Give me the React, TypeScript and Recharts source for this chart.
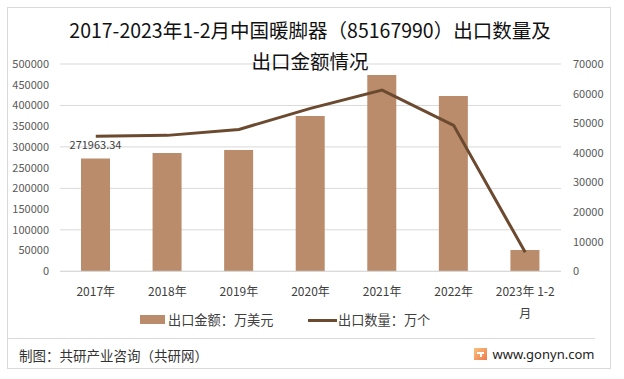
import React from 'react';
import { ComposedChart, Bar, Line, XAxis, YAxis, CartesianGrid, LabelList } from 'recharts';

const categories = ['2017年', '2018年', '2019年', '2020年', '2021年', '2022年', '2023年 1-2月'];
const exportValue = [271963.34, 285300, 292500, 374600, 473500, 422800, 51400];
const exportQuantity = [45600, 45900, 47900, 55000, 61200, 49300, 6400];
const valueLabels = ['271963.34', '', '', '', '', '', ''];
const leftTicks = [0, 50000, 100000, 150000, 200000, 250000, 300000, 350000, 400000, 450000, 500000];
const rightTicks = [0, 10000, 20000, 30000, 40000, 50000, 60000, 70000];
const titleLines = ['2017-2023年1-2月中国暖脚器（85167990）出口数量及', '出口金额情况'];
const legendNames = ['出口金额：万美元', '出口数量：万个'];
const footerLeft = '制图：共研产业咨询（共研网）';
const footerRight = 'www.gonyn.com';

const data = categories.map((c, i) => ({
  name: c,
  value: exportValue[i],
  qty: exportQuantity[i],
  label: valueLabels[i],
}));

const FONT = '"Noto Sans CJK SC", "Noto Sans", sans-serif';
const BAR = '#BA8C6B';
const LINE = '#6B4A2F';
const AXIS_TEXT = '#595959';

const WrapTick = (props: any) => {
  const { x, y, payload } = props;
  const s = String(payload.value);
  const maxChars = 9;
  const lines = s.length > maxChars ? [s.slice(0, maxChars), s.slice(maxChars)] : [s];
  return (
    <text x={x} y={y} textAnchor="middle" fill="#404040" fontSize={12} fontFamily={FONT}>
      {lines.map((l, i) => (
        <tspan key={i} x={x} dy={i === 0 ? 25 : 22} style={{ whiteSpace: 'pre' }}>
          {l}
        </tspan>
      ))}
    </text>
  );
};

const TopLabel = (props: any) => {
  const { x, y, width, value } = props;
  if (!value) return null;
  return (
    <text x={x + width / 2} y={y - 10} textAnchor="middle" fill="#404040" fontSize={11} fontFamily={FONT}>
      {value}
    </text>
  );
};

export default function App() {
  return (
    <div
      style={{
        position: 'fixed',
        left: 0,
        top: 0,
        width: 624,
        height: 379,
        background: '#fff',
        overflow: 'hidden',
        fontFamily: FONT,
      }}
    >
      <div
        style={{
          position: 'absolute',
          left: 7,
          top: 7,
          width: 604,
          height: 362,
          border: '1px solid #D9D9D9',
          boxSizing: 'border-box',
        }}
      />
      <div style={{ position: 'absolute', left: 0, top: 0 }}>
        <ComposedChart
          width={624}
          height={379}
          data={data}
          margin={{ top: 64, right: 13, left: 0, bottom: 47.7 }}
        >
          <CartesianGrid yAxisId="left" horizontal vertical={false} stroke="#D9D9D9" strokeWidth={1} />
          <XAxis
            dataKey="name"
            height={60}
            tickLine={false}
            tickSize={0}
            tickMargin={0}
            axisLine={{ stroke: '#D9D9D9' }}
            interval={0}
            tick={<WrapTick />}
          />
          <YAxis
            yAxisId="left"
            orientation="left"
            width={60}
            domain={[0, 500000]}
            ticks={leftTicks}
            tickLine={false}
            axisLine={false}
            tickSize={0}
            tickMargin={11}
            tick={{ fill: AXIS_TEXT, fontSize: 11, fontFamily: FONT }}
          />
          <YAxis
            yAxisId="right"
            orientation="right"
            width={50}
            domain={[0, 70000]}
            ticks={rightTicks}
            tickLine={false}
            axisLine={false}
            tickSize={0}
            tickMargin={12}
            tick={{ fill: AXIS_TEXT, fontSize: 11, fontFamily: FONT }}
          />
          <Bar yAxisId="left" dataKey="value" fill={BAR} barSize={29} isAnimationActive={false}>
            <LabelList dataKey="label" content={<TopLabel />} />
          </Bar>
          <Line
            yAxisId="right"
            type="linear"
            dataKey="qty"
            stroke={LINE}
            strokeWidth={3}
            dot={false}
            activeDot={false}
            isAnimationActive={false}
          />
        </ComposedChart>
      </div>

      {/* Title */}
      <div
        style={{
          position: 'absolute',
          left: 0,
          width: 620,
          top: 19,
          textAlign: 'center',
          fontSize: 19.5,
          lineHeight: '22px',
          color: '#111',
          whiteSpace: 'nowrap',
        }}
      >
        {titleLines[0]}
      </div>
      <div
        style={{
          position: 'absolute',
          left: 0,
          width: 620,
          top: 50,
          textAlign: 'center',
          fontSize: 19.5,
          lineHeight: '22px',
          color: '#111',
          whiteSpace: 'nowrap',
        }}
      >
        {titleLines[1]}
      </div>

      {/* Legend */}
      <div style={{ position: 'absolute', left: 140, top: 315, width: 25, height: 9, background: BAR }} />
      <div
        style={{
          position: 'absolute',
          left: 168,
          top: 311,
          fontSize: 13.2,
          lineHeight: '18px',
          color: '#404040',
          whiteSpace: 'nowrap',
        }}
      >
        {legendNames[0]}
      </div>
      <div style={{ position: 'absolute', left: 308, top: 318.5, width: 29, height: 3, background: LINE }} />
      <div
        style={{
          position: 'absolute',
          left: 338,
          top: 311,
          fontSize: 13.2,
          lineHeight: '18px',
          color: '#404040',
          whiteSpace: 'nowrap',
        }}
      >
        {legendNames[1]}
      </div>

      {/* Footer */}
      <div style={{ position: 'absolute', left: 7, top: 337.5, width: 588, height: 1, background: '#D9D9D9' }} />
      <div
        style={{
          position: 'absolute',
          left: 19,
          top: 346,
          fontSize: 13.5,
          lineHeight: '18px',
          color: '#333',
          whiteSpace: 'nowrap',
        }}
      >
        {footerLeft}
      </div>
      <svg style={{ position: 'absolute', left: 474, top: 348 }} width={13} height={12}>
        <defs>
          <linearGradient id="lg" x1="0" y1="0" x2="1" y2="1">
            <stop offset="0%" stopColor="#F9C27E" />
            <stop offset="100%" stopColor="#F07A4A" />
          </linearGradient>
        </defs>
        <rect x={0} y={0} width={13} height={12} fill="url(#lg)" />
        <rect x={3} y={4} width={7} height={2} fill="#fff" />
        <rect x={6} y={6} width={2} height={3} fill="#fff" />
      </svg>
      <div
        style={{
          position: 'absolute',
          left: 492.5,
          top: 345,
          fontSize: 13,
          lineHeight: '18px',
          color: '#222',
          whiteSpace: 'nowrap',
          fontFamily: '"Noto Sans", sans-serif',
        }}
      >
        {footerRight}
      </div>
    </div>
  );
}
